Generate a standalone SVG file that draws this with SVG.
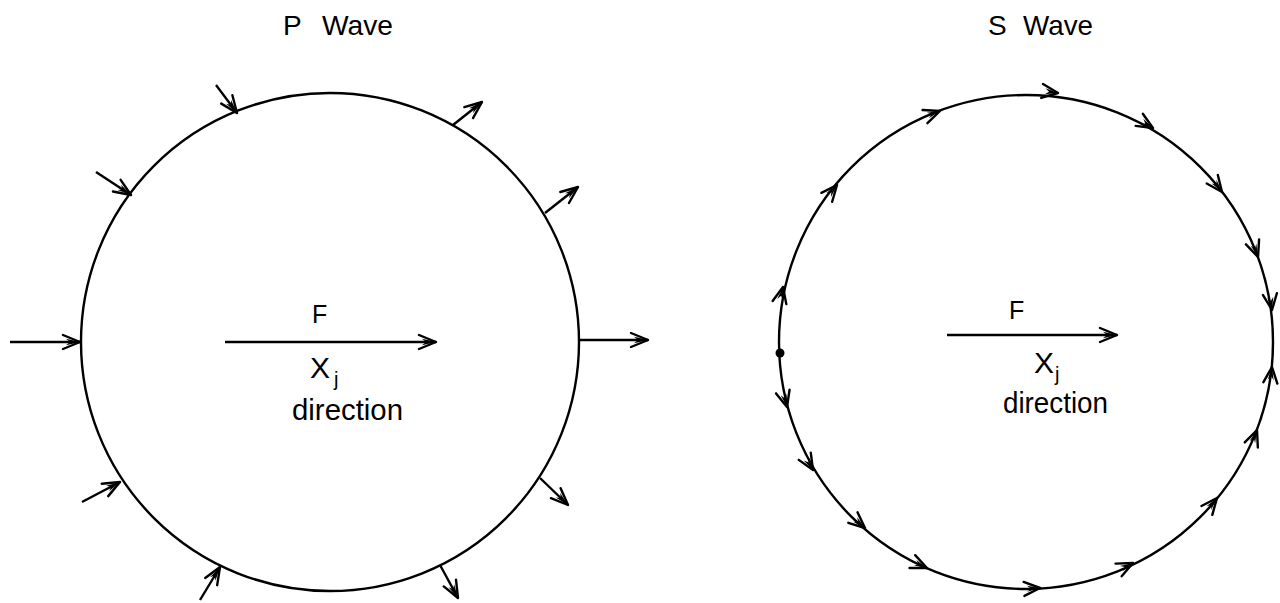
<svg xmlns="http://www.w3.org/2000/svg" xmlns:xlink="http://www.w3.org/1999/xlink" width="1280" height="603" viewBox="0 0 1280 603">
<style>
.circ{fill:none;stroke:#000;stroke-width:2.4}
.arr{fill:none;stroke:#000;stroke-width:2.4;marker-end:url(#ah)}
.t{font-family:"Liberation Sans",Arial,sans-serif;fill:#000}
.hd{stroke:#000;stroke-width:2.4;fill:none;stroke-linecap:round}
</style>
<defs>
<marker id="ah" markerUnits="userSpaceOnUse" markerWidth="22" markerHeight="18" viewBox="-19 -9 22 18" refX="0" refY="0" orient="auto">
<path d="M0,0 L-17,-7 M0,0 L-17,7" class="hd"/>
<path d="M0,0 L-14,-3.2 L-10,0 L-14,3.2Z" fill="#000"/>
</marker>
<g id="sh">
<path d="M0,0 L-16,-7 M0,0 L-16,7" class="hd"/>
<path d="M0,0 L-13,-3 L-9,0 L-13,3Z" fill="#000"/>
</g>
</defs>
<rect width="1280" height="603" fill="#fff"/>

<g id="p-wave">
<circle class="circ" cx="330" cy="342" r="249"/>
<text class="t" x="283" y="35" font-size="28">P</text>
<text class="t" x="322" y="35" font-size="28" textLength="71" lengthAdjust="spacingAndGlyphs">Wave</text>
<text class="t" x="312" y="323" font-size="25">F</text>
<text class="t" x="310" y="378" font-size="30">X</text>
<text class="t" x="334" y="386" font-size="20">j</text>
<text class="t" x="292" y="420" font-size="29" textLength="111" lengthAdjust="spacingAndGlyphs">direction</text>
</g>

<g id="s-wave">
<circle class="circ" cx="1026" cy="342" r="247"/>
<circle cx="780" cy="353" r="4.5" fill="#000"/>
<text class="t" x="988" y="35" font-size="28">S</text>
<text class="t" x="1023" y="35" font-size="28" textLength="70" lengthAdjust="spacingAndGlyphs">Wave</text>
<text class="t" x="1009" y="319" font-size="25">F</text>
<text class="t" x="1034" y="373" font-size="30">X</text>
<text class="t" x="1055" y="381" font-size="20">j</text>
<text class="t" x="1003" y="413" font-size="29" textLength="105" lengthAdjust="spacingAndGlyphs">direction</text>
</g>

<g id="connectors">
<line class="arr" x1="225" y1="342" x2="436" y2="342"/>
<line class="arr" x1="10" y1="342" x2="80" y2="342"/>
<line class="arr" x1="580" y1="340" x2="648" y2="340"/>
<line class="arr" x1="216" y1="85" x2="237" y2="113"/>
<line class="arr" x1="96" y1="172" x2="131" y2="195"/>
<line class="arr" x1="82" y1="502" x2="120" y2="482"/>
<line class="arr" x1="200" y1="600" x2="220" y2="567"/>
<line class="arr" x1="453" y1="125" x2="482" y2="102"/>
<line class="arr" x1="545" y1="213" x2="578" y2="187"/>
<line class="arr" x1="540" y1="478" x2="568" y2="505"/>
<line class="arr" x1="440" y1="565" x2="458" y2="598"/>
<line class="arr" x1="947" y1="335" x2="1117" y2="335"/>
<use xlink:href="#sh" transform="translate(783,287) rotate(-77.3)"/>
<use xlink:href="#sh" transform="translate(837,185) rotate(-50.3)"/>
<use xlink:href="#sh" transform="translate(940,111) rotate(-20.4)"/>
<use xlink:href="#sh" transform="translate(1058,93) rotate(7.3)"/>
<use xlink:href="#sh" transform="translate(1153,128) rotate(30.7)"/>
<use xlink:href="#sh" transform="translate(1222,192) rotate(52.6)"/>
<use xlink:href="#sh" transform="translate(1258,257) rotate(69.9)"/>
<use xlink:href="#sh" transform="translate(1272,310) rotate(82.6)"/>
<use xlink:href="#sh" transform="translate(787,407) rotate(74.8)"/>
<use xlink:href="#sh" transform="translate(813,470) rotate(59)"/>
<use xlink:href="#sh" transform="translate(865,528) rotate(40.9)"/>
<use xlink:href="#sh" transform="translate(927,568) rotate(23.7)"/>
<use xlink:href="#sh" transform="translate(1040,588) rotate(-3.3)"/>
<use xlink:href="#sh" transform="translate(1133,563) rotate(-25.8)"/>
<use xlink:href="#sh" transform="translate(1217,498) rotate(-50.8)"/>
<use xlink:href="#sh" transform="translate(1257,430) rotate(-69.1)"/>
<use xlink:href="#sh" transform="translate(1272,367) rotate(-84.2)"/>
</g>
</svg>
